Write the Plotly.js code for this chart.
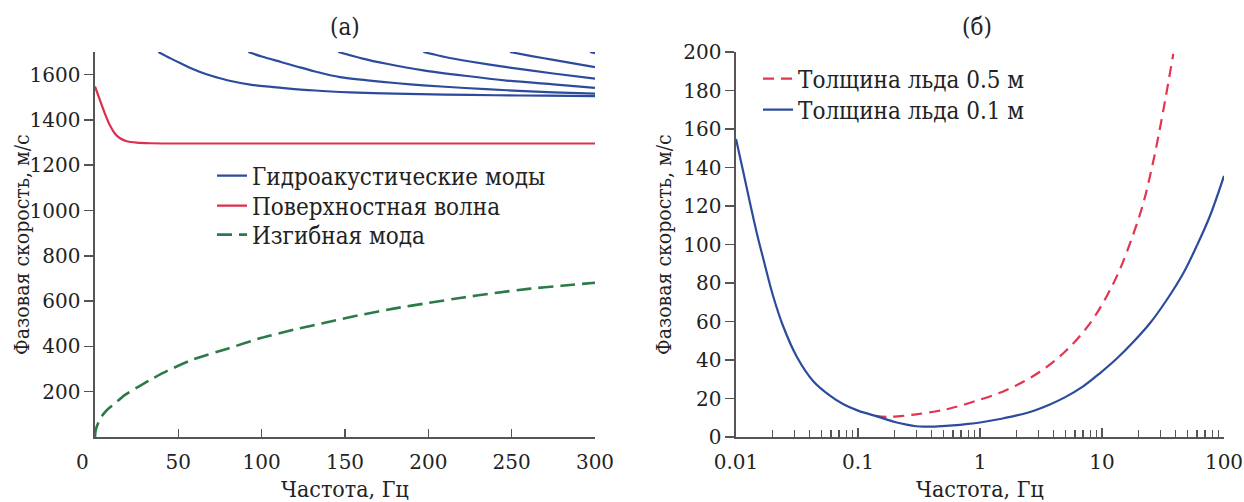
<!DOCTYPE html>
<html>
<head>
<meta charset="utf-8">
<script src="https://cdn.plot.ly/plotly-3.0.1.min.js"></script>
<style>html,body{margin:0;padding:0;background:#fff}#chart{width:1244px;height:502px}</style>
</head>
<body>
<div id="chart"></div>
<script>
// ---------- Panel (a): phase velocity vs frequency (linear) ----------
const mode1Freq = [38, 45, 52, 59, 66, 73, 80, 94, 112, 132, 153, 180, 210, 240, 270, 300];
const mode1Vel  = [1700, 1673, 1648, 1624, 1604, 1588, 1574, 1555, 1542, 1530, 1522, 1516, 1512, 1509, 1507, 1505];
const mode2Freq = [92, 100, 112, 122, 132, 147, 165, 180, 197, 222, 247, 275, 300];
const mode2Vel  = [1700, 1680, 1655, 1634, 1614, 1589, 1574, 1563, 1553, 1541, 1531, 1522, 1516];
const mode3Freq = [146, 160, 175, 197, 222, 247, 275, 300];
const mode3Vel  = [1700, 1672, 1648, 1619, 1595, 1574, 1557, 1542];
const mode4Freq = [197, 210, 225, 247, 275, 300];
const mode4Vel  = [1700, 1678, 1658, 1633, 1605, 1582];
const mode5Freq = [249, 262, 275, 300];
const mode5Vel  = [1700, 1682, 1665, 1633];
const mode6Freq = [297, 300];
const mode6Vel  = [1700, 1695];

const surfFreq = [0, 3, 6, 9, 12, 15, 19, 25, 33, 45, 300];
const surfVel  = [1548, 1486, 1427, 1375, 1339, 1319, 1306, 1300, 1297, 1296, 1296];

const flexFreq = [0, 0.3, 1, 2, 3, 4.5, 6, 9, 12, 18, 27, 35, 43, 59, 80, 100, 120, 140, 160, 180, 200, 220, 240, 260, 280, 300];
const flexVel  = [0, 25, 45, 63, 78, 96, 110, 131, 149, 186, 226, 260, 291, 343, 391, 438, 475, 508, 540, 568, 592, 615, 636, 654, 668, 681];

const xTicksA = [0, 50, 100, 150, 200, 250, 300];
const xTickTextA = ['0\u00a0\u00a0\u00a0\u00a0', '50', '100', '150', '200', '250', '300'];
const yTicksA = [200, 400, 600, 800, 1000, 1200, 1400, 1600];

// ---------- Panel (б): phase velocity vs frequency (log x) ----------
const ice05Freq = [0.139, 0.17, 0.21, 0.3, 0.45, 0.566, 0.88, 1.65, 3.1, 5.14, 8.0, 10.9, 14.0, 18.2, 21.7, 26.2, 31.6, 38.4];
const ice05Vel  = [11.0, 10.5, 10.7, 11.8, 13.5, 14.8, 18.3, 24.4, 33.9, 45.2, 59.2, 73, 87, 106, 121, 142.6, 168.7, 199];
const ice01Freq = [0.01, 0.0115, 0.013, 0.0148, 0.0168, 0.0202, 0.0244, 0.0315, 0.043, 0.0589, 0.076, 0.1, 0.139, 0.2, 0.25, 0.3, 0.35, 0.4, 0.45, 0.6, 0.8, 1.06, 1.5, 2.0, 2.8, 3.74, 5.0, 7.0, 9.6, 13.3, 18.2, 24.8, 34.0, 46.5, 59.6, 76.7, 100];
const ice01Vel  = [154.8, 137.4, 121.8, 106, 92.2, 73, 57.4, 41.7, 29.0, 21.5, 17.0, 13.7, 11.0, 7.8, 6.4, 5.6, 5.4, 5.4, 5.5, 6.0, 6.8, 7.8, 9.5, 11.2, 13.8, 16.9, 20.7, 26.3, 33.1, 40.9, 49.6, 59.2, 71.3, 85.2, 99.1, 114.8, 135.6];

const xTicksB = [0.01, 0.1, 1, 10, 100];
const xTickTextB = ['0.01', '0.1', '1', '10', '100'];
const xMinorB = [0.02,0.03,0.04,0.05,0.06,0.07,0.08,0.09,0.2,0.3,0.4,0.5,0.6,0.7,0.8,0.9,2,3,4,5,6,7,8,9,20,30,40,50,60,70,80,90];
const yTicksB = [0, 20, 40, 60, 80, 100, 120, 140, 160, 180, 200];

const labels = {
  titleA: '(a)', titleB: '(б)',
  xTitle: 'Частота, Гц', yTitle: 'Фазовая скорость, м/с',
  hydro: 'Гидроакустические моды', surf: 'Поверхностная волна', flex: 'Изгибная мода',
  ice05: 'Толщина льда 0.5 м', ice01: 'Толщина льда 0.1 м'
};

const BLUE = '#2c4b9c', RED = '#dc2f4d', GREEN = '#2b7a47', RED2 = '#e2354f';
const FONT = 'DejaVu Serif';
const FONTC = 'DejaVu Serif Condensed, DejaVu Serif';
const TXT = '#222';
const TICK_SIZE = 20;

const modeF = [mode1Freq, mode2Freq, mode3Freq, mode4Freq, mode5Freq, mode6Freq];
const modeV = [mode1Vel, mode2Vel, mode3Vel, mode4Vel, mode5Vel, mode6Vel];

const traces = [];
modeF.forEach((f, i) => {
  traces.push({
    x: f, y: modeV[i], type: 'scatter', mode: 'lines',
    line: {color: BLUE, width: 2.2, shape: 'spline', smoothing: 0.8},
    name: labels.hydro, legendgroup: 'hydro', showlegend: i === 0,
    xaxis: 'x', yaxis: 'y', legend: 'legend'
  });
});
traces.push({
  x: surfFreq, y: surfVel, type: 'scatter', mode: 'lines',
  line: {color: RED, width: 2.2, shape: 'spline', smoothing: 0.6},
  name: labels.surf, xaxis: 'x', yaxis: 'y', legend: 'legend3'
});
traces.push({
  x: flexFreq, y: flexVel, type: 'scatter', mode: 'lines',
  line: {color: GREEN, width: 2.6, dash: '15px,7px', shape: 'spline', smoothing: 0.6},
  name: labels.flex, xaxis: 'x', yaxis: 'y', legend: 'legend4'
});
traces.push({
  x: ice05Freq, y: ice05Vel, type: 'scatter', mode: 'lines',
  line: {color: RED2, width: 2.2, dash: '11px,7px', shape: 'spline', smoothing: 1},
  name: labels.ice05, xaxis: 'x2', yaxis: 'y2', legend: 'legend2'
});
traces.push({
  x: ice01Freq, y: ice01Vel, type: 'scatter', mode: 'lines',
  line: {color: BLUE, width: 2.2, shape: 'spline', smoothing: 1},
  name: labels.ice01, xaxis: 'x2', yaxis: 'y2', legend: 'legend5'
});

const W = 1244, H = 502;
const px = v => v / W, py = v => (H - v) / H;
const axisCommon = {
  showline: true, linecolor: '#555', linewidth: 1.6,
  tickcolor: '#555', tickwidth: 1.5, showgrid: false, zeroline: false,
  mirror: false, ticklabeloverflow: 'allow',
  tickfont: {family: FONT, size: TICK_SIZE, color: TXT}
};

function ann(text, x, y, size, angle) {
  return {text: text, x: px(x), y: py(y), xref: 'paper', yref: 'paper', showarrow: false,
    textangle: angle || 0, xanchor: 'center', yanchor: 'middle',
    font: {family: FONTC, size: size, color: TXT}};
}
function leg(x, yc) {
  return {x: px(x), y: py(yc), xanchor: 'left', yanchor: 'middle',
    bgcolor: 'rgba(0,0,0,0)', font: {family: FONTC, size: 24, color: TXT}};
}

const layout = {
  width: W, height: H,
  margin: {l: 0, r: 0, t: 0, b: 0},
  paper_bgcolor: '#fff', plot_bgcolor: '#fff',
  font: {family: FONT, color: TXT},
  showlegend: true,
  xaxis: Object.assign({}, axisCommon, {
    domain: [px(95), px(595)], range: [0, 300], anchor: 'y',
    tickmode: 'array', tickvals: xTicksA, ticktext: xTickTextA,
    ticks: 'inside', ticklen: 8, ticklabelstandoff: 6
  }),
  yaxis: Object.assign({}, axisCommon, {
    domain: [py(437), py(52)], range: [0, 1700], anchor: 'x',
    tickmode: 'array', tickvals: yTicksA,
    ticks: 'outside', ticklen: 9
  }),
  xaxis2: Object.assign({}, axisCommon, {
    domain: [px(736), px(1224)], type: 'log', range: [-2, 2], anchor: 'y2',
    tickmode: 'array', tickvals: xTicksB, ticktext: xTickTextB,
    ticks: 'inside', ticklen: 9, ticklabelstandoff: 6,
    minor: {ticks: 'inside', ticklen: 7, tickwidth: 1.3, tickcolor: '#555', tickmode: 'array', tickvals: xMinorB, showgrid: false}
  }),
  yaxis2: Object.assign({}, axisCommon, {
    domain: [py(437), py(52)], range: [0, 200], anchor: 'x2',
    tickmode: 'array', tickvals: yTicksB,
    ticks: 'outside', ticklen: 9
  }),
  legend: leg(212, 176),
  legend3: leg(212, 206),
  legend4: leg(212, 235),
  legend2: leg(758, 79),
  legend5: leg(758, 110),
  annotations: [
    ann(labels.titleA, 345, 27, 24),
    ann(labels.titleB, 977, 27, 24),
    ann(labels.xTitle, 345, 489, 23),
    ann(labels.xTitle, 980, 489, 23),
    ann(labels.yTitle, 22, 245, 21, -90),
    ann(labels.yTitle, 664, 245, 21, -90)
  ]
};

Plotly.newPlot('chart', traces, layout, {displayModeBar: false, staticPlot: true});
</script>
</body>
</html>
